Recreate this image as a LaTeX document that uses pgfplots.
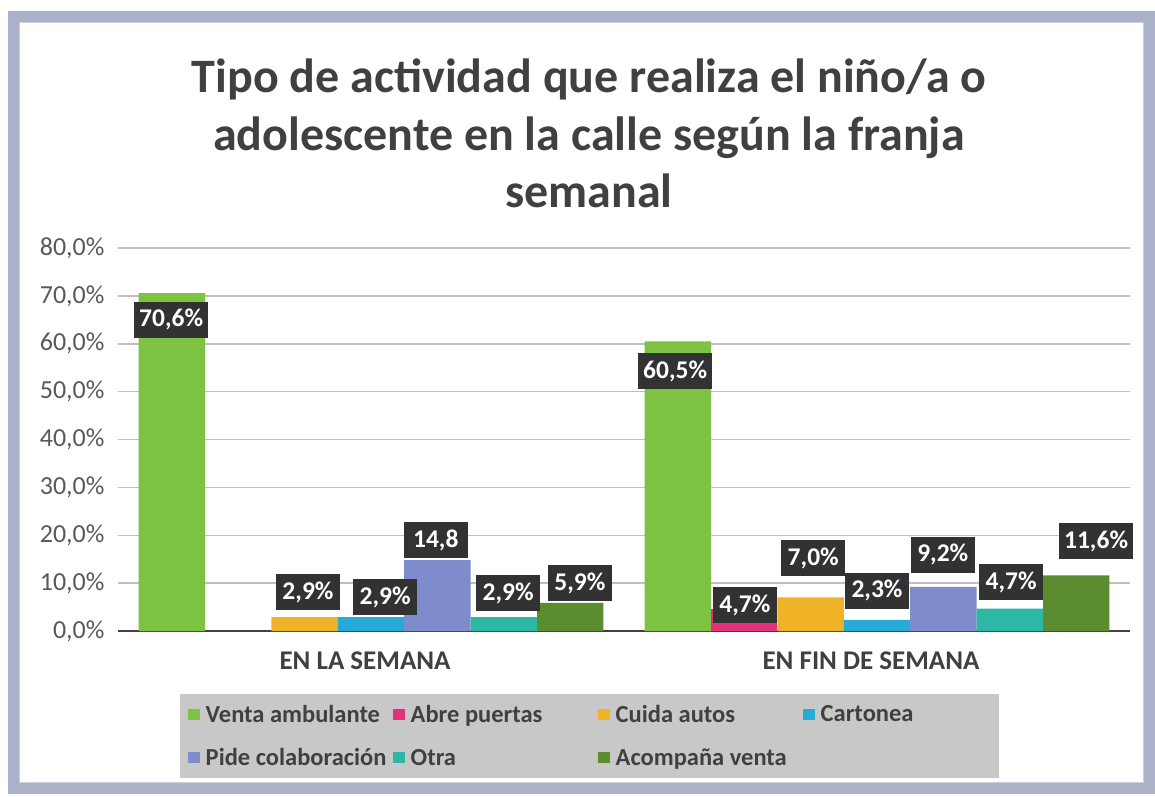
\documentclass[border=0pt]{standalone}
\usepackage{fontspec}
\setmainfont{Carlito}
\usepackage{pgfplots}
\pgfplotsset{compat=1.18}

\definecolor{c1}{RGB}{125,194,66}
\definecolor{c2}{RGB}{226,48,122}
\definecolor{c3}{RGB}{240,178,38}
\definecolor{c4}{RGB}{40,170,214}
\definecolor{c5}{RGB}{126,140,204}
\definecolor{c6}{RGB}{44,184,164}
\definecolor{c7}{RGB}{92,140,48}
\definecolor{framecol}{RGB}{170,177,200}
\definecolor{titlecol}{RGB}{64,64,64}
\definecolor{tickcol}{RGB}{89,89,89}
\definecolor{gridcol}{RGB}{191,191,191}
\definecolor{axiscol}{RGB}{64,64,64}
\definecolor{leggray}{RGB}{200,200,200}
\definecolor{labbg}{RGB}{50,50,50}

\newcommand\titlefont{\fontsize{48}{56}\selectfont\bfseries}
\newcommand\tickfont{\fontsize{26}{30}\selectfont}
\newcommand\labfont{\fontsize{25.5}{30}\selectfont\bfseries}
\newcommand\xlabfont{\fontsize{27}{31}\selectfont\bfseries}
\newcommand\legfont{\fontsize{24.5}{29}\selectfont\bfseries}

\pgfplotsset{
  mybar/.style n args={2}{ybar, bar width=66.4pt, bar shift=#1, fill=#2, draw=none,
    legend image code/.code={\fill[#2] (0pt,-5.5pt) rectangle (11.5pt,5.5pt);}},
}

\begin{document}
\begin{tikzpicture}
\useasboundingbox (0pt,0pt) rectangle (1155pt,796pt);
\fill[white] (0pt,0pt) rectangle (1155pt,796pt);
\draw[line width=11pt, framecol] (13pt,8pt) rectangle (1149pt,779pt);
\draw[line width=1pt, framecol!60] (19pt,14pt) rectangle (1143pt,773pt);

\node[anchor=base, font=\titlefont, text=titlecol] at (589pt,703pt) {Tipo de actividad que realiza el niño/a o};
\node[anchor=base, font=\titlefont, text=titlecol] at (589pt,645pt) {adolescente en la calle según la franja};
\node[anchor=base, font=\titlefont, text=titlecol] at (589pt,588pt) {semanal};

\begin{axis}[
  at={(118pt,165pt)}, anchor=south west,
  width=1012pt, height=383pt, scale only axis,
  xmin=-0.5, xmax=1.5, ymin=0, ymax=80,
  xtick={0,1}, xticklabels={EN LA SEMANA, EN FIN DE SEMANA},
  ytick={0,10,20,30,40,50,60,70,80},
  yticklabels={{0,0\%},{10,0\%},{20,0\%},{30,0\%},{40,0\%},{50,0\%},{60,0\%},{70,0\%},{80,0\%}},
  ymajorgrids, grid style={gridcol, line width=1.5pt},
  major tick length=0pt,
  axis x line*=bottom, axis y line*=left,
  x axis line style={axiscol, line width=2.5pt},
  y axis line style={draw=none},
  xticklabel style={font=\xlabfont, text=titlecol, yshift=-17pt, xshift=-6pt},
  yticklabel style={font=\tickfont, text=tickcol, xshift=-10pt},
  clip=false,
  legend columns=4,
  legend cell align=left,
  legend style={at={(0.0613,-0.1635)}, anchor=north west, fill=leggray, draw=none,
    font=\legfont, text=titlecol, inner xsep=8pt, inner ysep=9pt,
    /tikz/row sep=21pt,
    /tikz/every even column/.append style={column sep=0pt}},
]
\addplot[mybar={-199.2pt}{c1}] coordinates {(0,70.6) (1,60.5)};
\addlegendentry{\makebox[189.5pt][l]{\hspace*{4pt}Venta ambulante}}
\addplot[mybar={-132.8pt}{c2}] coordinates {(1,4.7)};
\addlegendentry{\makebox[189.5pt][l]{\hspace*{4pt}Abre puertas}}
\addplot[mybar={-66.4pt}{c3}] coordinates {(0,2.9) (1,7.0)};
\addlegendentry{\makebox[189.5pt][l]{\hspace*{4pt}Cuida autos}}
\addplot[mybar={0pt}{c4}] coordinates {(0,2.9) (1,2.3)};
\addlegendentry{\makebox[172pt][l]{\hspace*{4pt}Cartonea}}
\addplot[mybar={66.4pt}{c5}] coordinates {(0,14.8) (1,9.2)};
\addlegendentry{\makebox[189.5pt][l]{\hspace*{4pt}Pide colaboración}}
\addplot[mybar={132.8pt}{c6}] coordinates {(0,2.9) (1,4.7)};
\addlegendentry{\makebox[189.5pt][l]{\hspace*{4pt}Otra}}
\addplot[mybar={199.2pt}{c7}] coordinates {(0,5.9) (1,11.6)};
\addlegendentry{\makebox[189.5pt][l]{\hspace*{4pt}Acompaña venta}}

\addplot[forget plot, only marks, mark=*, mark size=0pt, mark options={draw=none, fill=none},
  point meta=explicit symbolic, nodes near coords,
  every node near coord/.append style={anchor=center, fill=labbg, text=white, font=\labfont,
    minimum width=64pt, minimum height=36pt, inner xsep=5pt, inner ysep=2pt}]
coordinates {
  (-0.395,65.0) [{70,6\%}]
  (-0.1245,8.15) [{2,9\%}]
  (0.028,7.1) [{2,9\%}]
  (0.128,19.0) [{14,8}]
  (0.271,7.9) [{2,9\%}]
  (0.413,10.0) [{5,9\%}]
  (0.601,54.3) [{60,5\%}]
  (0.739,5.4) [{4,7\%}]
  (0.874,15.2) [{7,0\%}]
  (1.0,8.4) [{2,3\%}]
  (1.130,15.9) [{9,2\%}]
  (1.265,10.2) [{4,7\%}]
  (1.433,18.8) [{11,6\%}]
};
\end{axis}
\end{tikzpicture}
\end{document}
